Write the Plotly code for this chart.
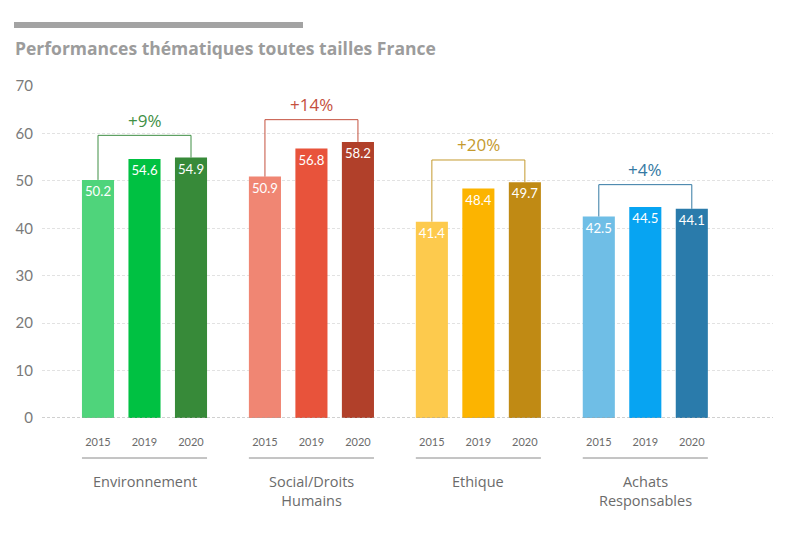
import plotly.graph_objects as go

# ---- data ----
categories = ["Environnement", "Social/Droits<br>Humains", "Ethique", "Achats<br>Responsables"]
years = ["2015", "2019", "2020"]
values_2015 = [50.2, 50.9, 41.4, 42.5]
values_2019 = [54.6, 56.8, 48.4, 44.5]
values_2020 = [54.9, 58.2, 49.7, 44.1]
changes = ["+9%", "+14%", "+20%", "+4%"]
y_ticks = [0, 10, 20, 30, 40, 50, 60, 70]

# ---- styles ----
bar_colors = [
    ["#4fd47b", "#00c142", "#378a39"],
    ["#f08673", "#e8533b", "#b1402a"],
    ["#fdca4d", "#fcb400", "#c08a14"],
    ["#6fbee6", "#07a4f2", "#2a7bab"],
]
change_colors = ["#3f8f44", "#c4503e", "#c49a2e", "#3479a3"]
FONT = "Lato"
FONT2 = "Open Sans"
GROUP_GAP = 3.59
BAR_W = 0.69
BRACKET_PAD = 4.7

W, H = 786, 554
ML, MR, MT, MB = 42, 13, 86, 136
plot_h = H - MT - MB
plot_w = W - ML - MR

def py(p):  # pixel y -> paper y
    return (H - MB - p) / plot_h

def px(p):  # pixel x -> paper x
    return (p - ML) / plot_w

fig = go.Figure()
series = [values_2015, values_2019, values_2020]
tickvals, ticktext = [], []
for g, cat in enumerate(categories):
    xs = [g * GROUP_GAP + (j - 1) for j in range(3)]
    ys = [series[j][g] for j in range(3)]
    tickvals += xs
    ticktext += years
    fig.add_trace(go.Bar(
        x=xs, y=ys, width=BAR_W,
        marker=dict(color=bar_colors[g], line=dict(width=0)),
        text=[f"{v:.1f}" for v in ys],
        textposition="inside", insidetextanchor="end", textangle=0,
        textfont=dict(color="white", size=14, family=FONT),
        hoverinfo="skip", showlegend=False,
    ))
    top = max(ys) + BRACKET_PAD
    fig.add_trace(go.Scatter(
        x=[xs[0], xs[0], xs[2], xs[2]], y=[ys[0], top, top, ys[2]],
        mode="lines", line=dict(color=change_colors[g], width=1),
        hoverinfo="skip", showlegend=False,
    ))
    fig.add_annotation(x=xs[1], y=top, xref="x", yref="y", text=changes[g],
                       showarrow=False, yanchor="middle", yshift=15,
                       font=dict(size=17, color=change_colors[g], family=FONT2))
    fig.add_annotation(x=xs[1], y=py(470), xref="x", yref="paper", text=cat,
                       showarrow=False, yanchor="top",
                       font=dict(size=14.5, color="#6b6b6b", family=FONT2))
    fig.add_shape(type="line", xref="x", yref="paper",
                  x0=xs[0] - BAR_W / 2, x1=xs[2] + BAR_W / 2, y0=py(458), y1=py(458),
                  line=dict(color="#8a8a8a", width=1))

# zero line
fig.add_shape(type="line", xref="paper", yref="y", x0=0, x1=1, y0=0, y1=0,
              line=dict(color="#a0a0a0", width=1, dash="3px,2px"))
# grey bar above title
fig.add_shape(type="rect", xref="paper", yref="paper",
              x0=px(14), x1=px(303), y0=py(28), y1=py(22),
              fillcolor="#a3a3a3", line=dict(width=0))

x_left = -1 - (98 - ML) / 46.5
x_right = x_left + plot_w / 46.5

fig.update_layout(
    width=W, height=H,
    margin=dict(l=ML, r=MR, t=MT, b=MB),
    paper_bgcolor="white", plot_bgcolor="white",
    barmode="overlay",
    title=dict(text="Performances thématiques toutes tailles France",
               x=15 / W, xanchor="left", xref="container",
               y=1 - 49 / H, yanchor="middle", yref="container",
               font=dict(size=17.5, color="#9c9c9c", family=FONT2, weight="bold")),
    xaxis=dict(range=[x_left, x_right], tickvals=tickvals, ticktext=ticktext,
               showgrid=False, zeroline=False, showline=False, ticks="",
               ticklabelstandoff=16,
               tickfont=dict(size=11, color="#6b6b6b", family=FONT)),
    yaxis=dict(range=[0, 70], tickvals=y_ticks, showgrid=True,
               gridcolor="#e2e2e2", griddash="3px,2px", gridwidth=1,
               zeroline=False, showline=False, ticks="", ticklabelstandoff=8,
               tickfont=dict(size=15, color="#7a7a7a", family=FONT)),
)

fig.write_html("out.html")
